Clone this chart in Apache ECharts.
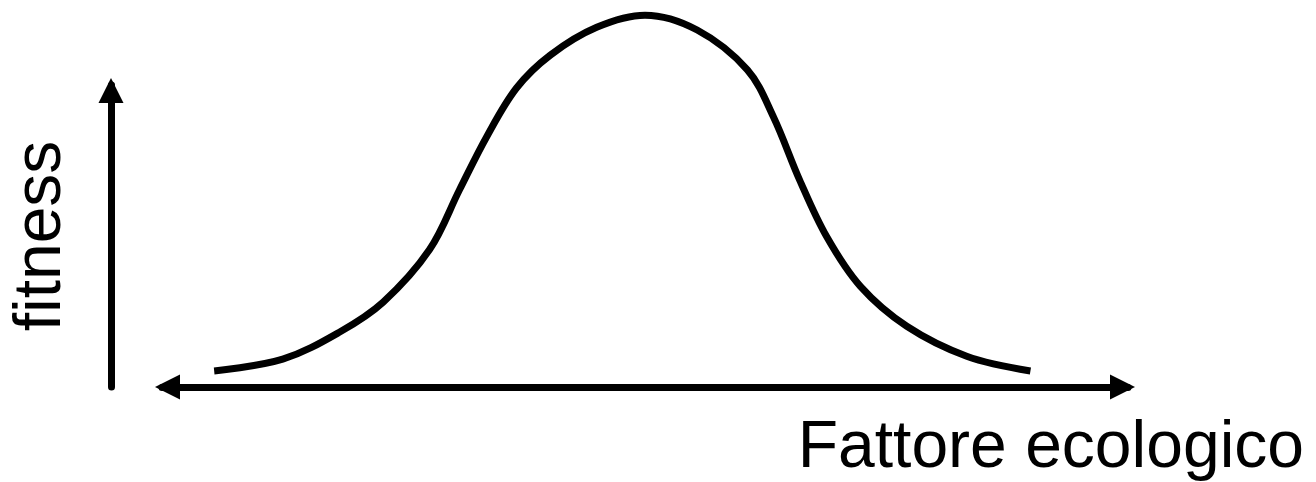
<!DOCTYPE html>
<html>
<head>
<meta charset="utf-8">
<script src="https://cdn.jsdelivr.net/npm/echarts@6/dist/echarts.min.js"></script>
<style>
  html, body { margin: 0; padding: 0; background: #fff; }
  #chart { width: 1316px; height: 482px; }
</style>
</head>
<body>
<div id="chart"></div>
<script>
// ecological factor (arbitrary units, 0-100 along the arrow)
const factor = [5.4, 12.5, 18.4, 22.9, 27.7, 30.8, 33.6, 36.7, 40.2, 45.0,
  50.0, 55.4, 60.6, 63.3, 66.0, 68.8, 72.3, 77.1, 83.3, 89.9]
// fitness (axis arrow = 1)
const fitness = [0.053, 0.092, 0.182, 0.281, 0.455, 0.653, 0.828, 0.990, 1.099, 1.191,
  1.231, 1.182, 1.050, 0.894, 0.686, 0.498, 0.333, 0.201, 0.102, 0.053]

const xName = 'Fattore ecologico'
const yName = 'fitness'

const chart = echarts.init(document.getElementById('chart'))

const arrowAxisLine = {
  show: true,
  onZero: false,
  symbol: ['triangle', 'triangle'],
  symbolSize: [25, 25],
  symbolOffset: [5.5, -5.5],
  lineStyle: { color: '#000', width: 7 }
}

chart.setOption({
  animation: false,
  backgroundColor: '#fff',
  textStyle: { fontFamily: 'Liberation Sans, Arial, sans-serif' },
  grid: { left: 162, right: 188, top: 85, bottom: 94 },
  xAxis: {
    type: 'value',
    min: 0,
    max: 100,
    axisLine: arrowAxisLine,
    axisTick: { show: false },
    axisLabel: { show: false },
    splitLine: { show: false },
    name: xName,
    nameLocation: 'end',
    nameGap: 176,
    nameTextStyle: {
      color: '#000',
      fontSize: 66,
      align: 'right',
      verticalAlign: 'top',
      padding: [29, 0, 0, 0]
    }
  },
  yAxis: {
    type: 'value',
    min: 0,
    max: 1,
    offset: 51,
    axisLine: Object.assign({}, arrowAxisLine, { symbol: ['none', 'triangle'] }),
    axisTick: { show: false },
    axisLabel: { show: false },
    splitLine: { show: false },
    name: yName,
    nameLocation: 'middle',
    nameRotate: 90,
    nameGap: 36,
    nameTextStyle: { color: '#000', fontSize: 66 }
  },
  series: [
    {
      type: 'line',
      data: factor.map((x, i) => [x, fitness[i]]),
      smooth: 0.35,
      showSymbol: false,
      clip: false,
      silent: true,
      lineStyle: { color: '#000', width: 7, cap: 'butt' }
    }
  ]
})
</script>
</body>
</html>
